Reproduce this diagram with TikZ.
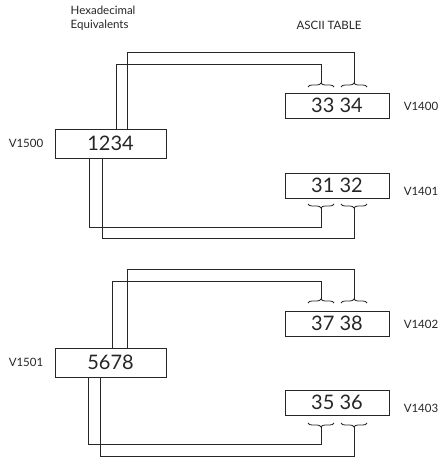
\documentclass[tikz,border=0pt]{standalone}
\usepackage{fontspec}
\setmainfont{Lato}
\usetikzlibrary{decorations.pathreplacing}

\begin{document}
\begin{tikzpicture}[x=1pt,y=-1pt,line width=0.8pt,black!85,
  box/.style={draw,minimum width=104pt,minimum height=25pt,inner sep=0pt,
    outer sep=0pt,font=\fontsize{20}{24}\selectfont},
  hexbox/.style={box,minimum width=111pt,minimum height=29pt},
  lbl/.style={font=\fontsize{11.5}{14.5}\selectfont},
  brc/.style={decorate,decoration={brace,amplitude=4pt}},
  brcdown/.style={decorate,decoration={brace,amplitude=4pt,mirror}}]
  \useasboundingbox (0,0) rectangle (442,458);
  \node[lbl,anchor=north west,align=left] (hexhead) at (67,2) {Hexadecimal\\Equivalents};
  \node[lbl] (ascihead) at (329,25) {ASCII TABLE};

  % first word
  \node[hexbox] (hexA) at (110.5,143.5) {1234};
  \node[lbl] (vA) at (26,143.5) {V1500};
  \node[box] (ascA1) at (337,105.5) {33 34};
  \node[lbl] (vA1) at (421,106) {V1400};
  \node[box] (ascA2) at (337,185.5) {31 32};
  \node[lbl] (vA2) at (421,191) {V1401};
  \draw[brc] (308,87) -- (334,87);
  \draw[brc] (341,87) -- (367,87);
  \draw[brcdown] (308,204) -- (334,204);
  \draw[brcdown] (341,204) -- (367,204);
  \coordinate (tA1) at (321,83);
  \coordinate (tA2) at (354,83);
  \coordinate (bA1) at (321,208);
  \coordinate (bA2) at (354,208);
  \draw ([xshift=5.5pt]hexA.north) |- ([yshift=19pt]tA1) -- (tA1);
  \draw ([xshift=16.5pt]hexA.north) |- ([yshift=31pt]tA2) -- (tA2);
  \draw ([xshift=-21.5pt]hexA.south) |- ([yshift=-19pt]bA1) -- (bA1);
  \draw ([xshift=-8.5pt]hexA.south) |- ([yshift=-30pt]bA2) -- (bA2);

  % second word
  \node[hexbox] (hexB) at (110.5,362.5) {5678};
  \node[lbl] (vB) at (26,362.5) {V1501};
  \node[box] (ascB1) at (337,323.5) {37 38};
  \node[lbl] (vB1) at (421,324) {V1402};
  \node[box] (ascB2) at (337,402.5) {35 36};
  \node[lbl] (vB2) at (421,408) {V1403};
  \draw[brc] (308,303) -- (334,303);
  \draw[brc] (341,303) -- (367,303);
  \draw[brcdown] (308,423) -- (334,423);
  \draw[brcdown] (341,423) -- (367,423);
  \coordinate (tB1) at (321,299);
  \coordinate (tB2) at (354,299);
  \coordinate (bB1) at (321,427);
  \coordinate (bB2) at (354,427);
  \draw ([xshift=1.5pt]hexB.north) |- ([yshift=18pt]tB1) -- (tB1);
  \draw ([xshift=16.5pt]hexB.north) |- ([yshift=30pt]tB2) -- (tB2);
  \draw ([xshift=-22.5pt]hexB.south) |- ([yshift=-17pt]bB1) -- (bB1);
  \draw ([xshift=-10.5pt]hexB.south) |- ([yshift=-29pt]bB2) -- (bB2);
\end{tikzpicture}
\end{document}
